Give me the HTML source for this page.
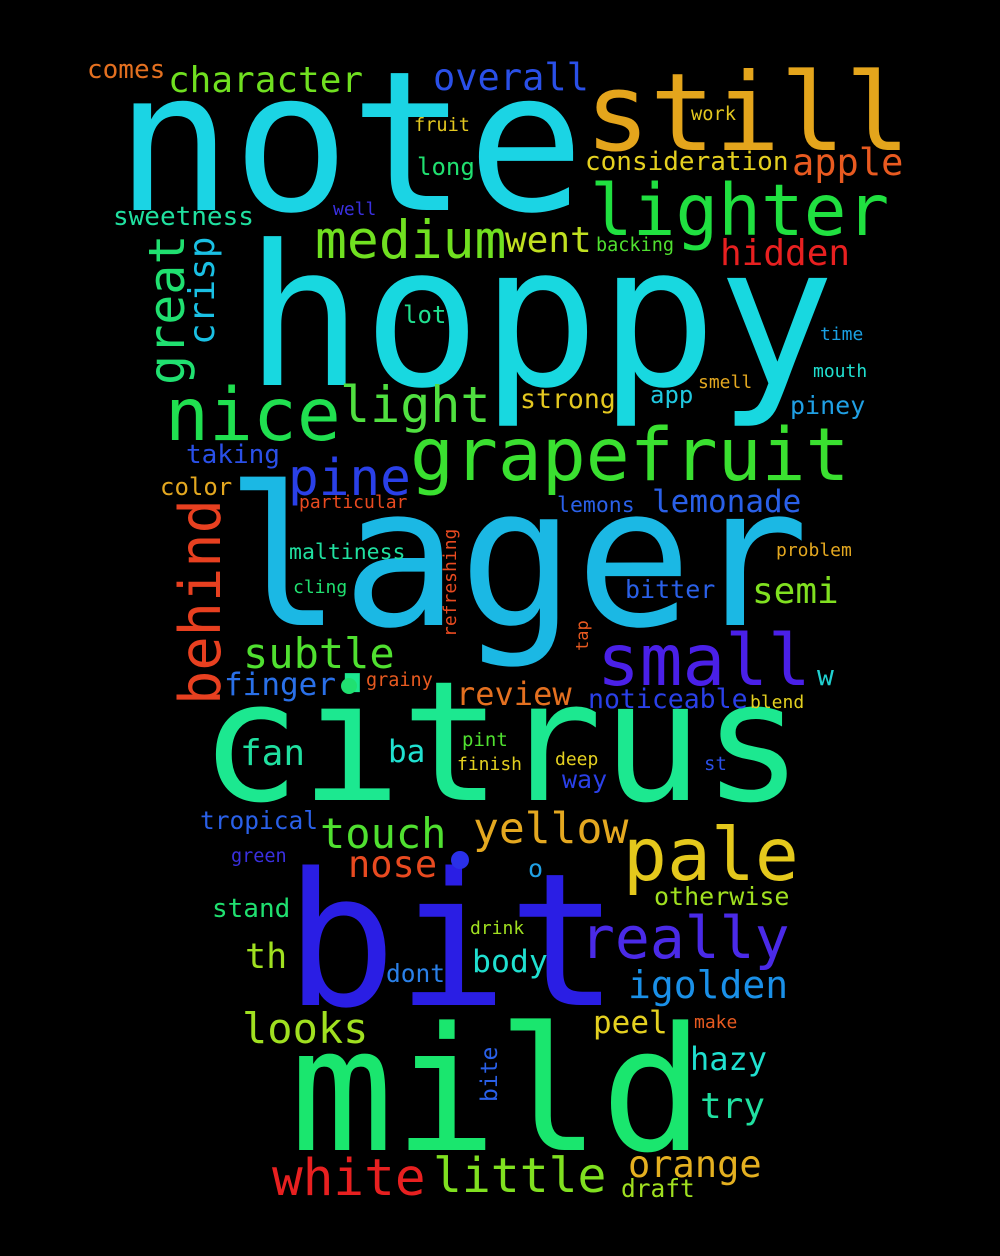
<!DOCTYPE html>
<html>
<head>
<meta charset="utf-8">
<style>
html,body{margin:0;padding:0;background:#000;}
svg{display:block;}
text{font-family:"DejaVu Sans Mono","Liberation Mono",monospace;}
</style>
</head>
<body>
<svg width="1000" height="1256" viewBox="0 0 1000 1256">
<rect width="1000" height="1256" fill="#000"/>
<text x="115" y="210" font-size="195" fill="#1bd4e4">note</text>
<text x="585" y="150" font-size="108" fill="#e4a51c">still</text>
<text x="245" y="385" font-size="196" fill="#18d8e0">hoppy</text>
<text x="225" y="625" font-size="194" fill="#1bb8e4">lager</text>
<text x="200" y="800" font-size="167" fill="#1ce890">citrus</text>
<text x="285" y="1005" font-size="185" fill="#2a1ee4">bit</text>
<text x="290" y="1150" font-size="172" fill="#1ae66e">mild</text>
<text x="410" y="480" font-size="73" fill="#3ae030">grapefruit</text>
<text x="590" y="235" font-size="71" fill="#20e040">lighter</text>
<text x="165" y="440" font-size="73" fill="#20e050">nice</text>
<text x="340" y="422" font-size="50" fill="#50e040">light</text>
<text x="288" y="495" font-size="51" fill="#2a40e8">pine</text>
<text x="315" y="258" font-size="53" fill="#70e020">medium</text>
<text x="505" y="252" font-size="36" fill="#c0e020">went</text>
<text x="597" y="685" font-size="71" fill="#4a20e8">small</text>
<text x="623" y="880" font-size="73" fill="#e4c81c">pale</text>
<text x="580" y="958" font-size="58" fill="#4a2ae8">really</text>
<text x="272" y="1195" font-size="51" fill="#e82020">white</text>
<text x="433" y="1192" font-size="48" fill="#80e020">little</text>
<text x="243" y="668" font-size="42" fill="#50e030">subtle</text>
<text x="320" y="848" font-size="42" fill="#50e030">touch</text>
<text x="473" y="843" font-size="43" fill="#e4a820">yellow</text>
<text x="242" y="1043" font-size="42" fill="#a0e020">looks</text>
<text x="628" y="998" font-size="38" fill="#1a90e8">igolden</text>
<text x="628" y="1177" font-size="37" fill="#e4b020">orange</text>
<text transform="translate(220,705) rotate(-90)" font-size="57" fill="#e84020">behind</text>
<text transform="translate(184,385) rotate(-90)" font-size="50" fill="#20e070">great</text>
<text transform="translate(214,345) rotate(-90)" font-size="36" fill="#1ac0e4">crisp</text>
<text x="168" y="92" font-size="36" fill="#70e020">character</text>
<text x="433" y="90" font-size="37" fill="#2a50e8">overall</text>
<text x="87" y="78" font-size="26" fill="#e47020">comes</text>
<text x="792" y="175" font-size="37" fill="#e85a20">apple</text>
<text x="585" y="170" font-size="26" fill="#e4d020">consideration</text>
<text x="417" y="175" font-size="24" fill="#20e070">long</text>
<text x="720" y="265" font-size="36" fill="#e82020">hidden</text>
<text x="113" y="225" font-size="26" fill="#20e0a0">sweetness</text>
<text x="333" y="215" font-size="18" fill="#3a30e0">well</text>
<text x="596" y="251" font-size="18.5" fill="#50e030">backing</text>
<text x="403" y="323" font-size="24" fill="#20e090">lot</text>
<text x="520" y="408" font-size="26.5" fill="#e4c820">strong</text>
<text x="650" y="403" font-size="24" fill="#20c8e0">app</text>
<text x="698" y="388" font-size="18" fill="#e4a820">smell</text>
<text x="820" y="340" font-size="18" fill="#1aa0e4">time</text>
<text x="813" y="377" font-size="18" fill="#20e0d0">mouth</text>
<text x="790" y="414" font-size="25" fill="#20a0e4">piney</text>
<text x="186" y="463" font-size="26" fill="#2a50e8">taking</text>
<text x="160" y="495" font-size="24" fill="#e4a820">color</text>
<text x="299" y="508" font-size="18" fill="#e84a20">particular</text>
<text x="557" y="512" font-size="21.5" fill="#2a60e8">lemons</text>
<text x="652" y="512" font-size="31" fill="#2a60e8">lemonade</text>
<text x="289" y="559" font-size="21.5" fill="#20e0a0">maltiness</text>
<text transform="translate(456,637) rotate(-90)" font-size="18" fill="#e84a20">refreshing</text>
<text x="293" y="593" font-size="18" fill="#20e070">cling</text>
<text x="625" y="598" font-size="25" fill="#2a60e8">bitter</text>
<text x="776" y="556" font-size="18" fill="#e4a820">problem</text>
<text x="752" y="603" font-size="36" fill="#80e020">semi</text>
<text transform="translate(588,651) rotate(-90)" font-size="17" fill="#e85a20">tap</text>
<text x="224" y="695" font-size="31" fill="#2a70e8">finger</text>
<text x="366" y="686" font-size="18.5" fill="#e85a20">grainy</text>
<text x="456" y="705" font-size="32" fill="#e47020">review</text>
<text x="588" y="708" font-size="26.5" fill="#2a40e8">noticeable</text>
<text x="750" y="708" font-size="18" fill="#e4d020">blend</text>
<text x="817" y="685" font-size="28" fill="#20d0d0">w</text>
<text x="240" y="765" font-size="36" fill="#20e0a0">fan</text>
<text x="388" y="762" font-size="31" fill="#20e0d0">ba</text>
<text x="462" y="746" font-size="19" fill="#50e030">pint</text>
<text x="457" y="770" font-size="18" fill="#e4d020">finish</text>
<text x="555" y="765" font-size="18" fill="#e4d020">deep</text>
<text x="562" y="788" font-size="25" fill="#2a40e8">way</text>
<text x="704" y="770" font-size="19" fill="#2a50e8">st</text>
<text x="200" y="829" font-size="24.5" fill="#2a60e8">tropical</text>
<text x="348" y="877" font-size="37" fill="#e84a20">nose</text>
<text x="231" y="862" font-size="18.5" fill="#3a30e0">green</text>
<text x="528" y="877" font-size="25" fill="#20a0e4">o</text>
<text x="654" y="905" font-size="25" fill="#a0e020">otherwise</text>
<text x="212" y="917" font-size="26" fill="#20e070">stand</text>
<text x="245" y="968" font-size="35" fill="#a0e020">th</text>
<text x="470" y="934" font-size="18" fill="#a0e020">drink</text>
<text x="472" y="972" font-size="31.5" fill="#20e0d0">body</text>
<text x="386" y="982" font-size="24.5" fill="#2a80e8">dont</text>
<text x="593" y="1033" font-size="31" fill="#e4d020">peel</text>
<text x="694" y="1028" font-size="18" fill="#e85a20">make</text>
<text x="690" y="1070" font-size="32" fill="#20e0d0">hazy</text>
<text transform="translate(497,1102) rotate(-90)" font-size="23" fill="#2a60e8">bite</text>
<text x="700" y="1118" font-size="36" fill="#20e0a0">try</text>
<text x="621" y="1197" font-size="24.5" fill="#a0e020">draft</text>
<text x="414" y="131" font-size="18.6" fill="#e4c820">fruit</text>
<text x="691" y="120" font-size="18.7" fill="#e4c820">work</text>
<circle cx="349" cy="686" r="8" fill="#20e070"/>
<circle cx="460" cy="860" r="9" fill="#2a30e8"/>
</svg>
</body>
</html>
